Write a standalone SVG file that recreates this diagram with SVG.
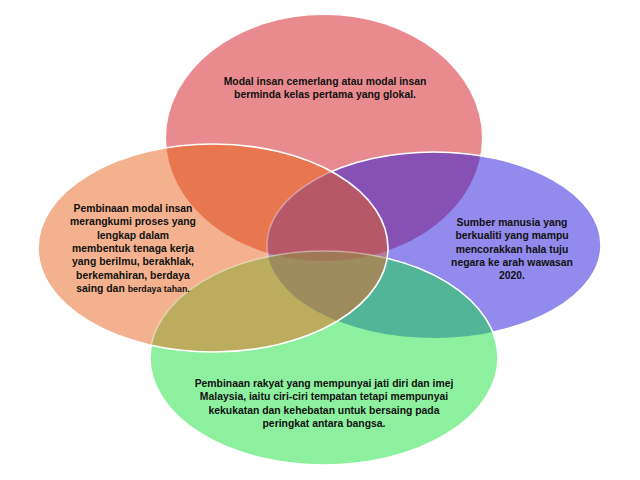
<svg xmlns="http://www.w3.org/2000/svg" width="640" height="480" viewBox="0 0 640 480">
<style>
.t{font-family:"Liberation Sans",Arial,sans-serif;font-size:10.4px;font-weight:bold;fill:#111;text-anchor:middle}
.s{font-size:8.8px}
.st{fill:none;stroke:#fff;stroke-width:1.6}
</style>
<defs>
<clipPath id="cT"><ellipse cx="324" cy="138" rx="158" ry="123"/></clipPath>
<clipPath id="cL"><ellipse cx="213" cy="248" rx="175" ry="104"/></clipPath>
<clipPath id="cR"><ellipse cx="434" cy="245" rx="167" ry="93"/></clipPath>
<clipPath id="cB"><ellipse cx="324" cy="358" rx="174" ry="107"/></clipPath>
<mask id="mNotB"><rect width="640" height="480" fill="#fff"/><ellipse cx="324" cy="358" rx="174" ry="107" fill="#000"/></mask>
<mask id="mNotL"><rect width="640" height="480" fill="#fff"/><ellipse cx="213" cy="248" rx="175" ry="104" fill="#000"/></mask>
</defs>
<rect width="640" height="480" fill="#fff"/>

<g id="node-top">
<ellipse cx="324" cy="138" rx="158" ry="123" fill="#E98B8E"/>
</g>
<g id="node-left">
<ellipse cx="213" cy="248" rx="175" ry="104" fill="#F4B18F"/>
</g>
<g id="node-right">
<ellipse cx="434" cy="245" rx="167" ry="93" fill="#928AEC"/>
</g>
<g id="node-bottom">
<ellipse cx="324" cy="358" rx="174" ry="107" fill="#8DF09F"/>
</g>

<g id="overlaps">
<g clip-path="url(#cT)"><ellipse cx="213" cy="248" rx="175" ry="104" fill="#E8774F"/></g>
<g clip-path="url(#cT)"><ellipse cx="434" cy="245" rx="167" ry="93" fill="#8650B5"/></g>
<g clip-path="url(#cT)"><ellipse cx="324" cy="358" rx="174" ry="107" fill="#C08A70"/></g>
<g clip-path="url(#cL)"><ellipse cx="434" cy="245" rx="167" ry="93" fill="#B07A9A"/></g>
<g clip-path="url(#cL)"><ellipse cx="324" cy="358" rx="174" ry="107" fill="#BBAC5E"/></g>
<g clip-path="url(#cR)"><ellipse cx="324" cy="358" rx="174" ry="107" fill="#52B597"/></g>
<g clip-path="url(#cT)"><g clip-path="url(#cL)"><ellipse cx="434" cy="245" rx="167" ry="93" fill="#B75868"/></g></g>
<g clip-path="url(#cT)"><g clip-path="url(#cL)"><ellipse cx="324" cy="358" rx="174" ry="107" fill="#C4925A"/></g></g>
<g clip-path="url(#cT)"><g clip-path="url(#cR)"><ellipse cx="324" cy="358" rx="174" ry="107" fill="#7E7A8E"/></g></g>
<g clip-path="url(#cL)"><g clip-path="url(#cR)"><ellipse cx="324" cy="358" rx="174" ry="107" fill="#9F8C5E"/></g></g>
<g clip-path="url(#cT)"><g clip-path="url(#cL)"><g clip-path="url(#cR)"><ellipse cx="324" cy="358" rx="174" ry="107" fill="#A07856"/></g></g></g>
</g>

<g id="outlines">
<g mask="url(#mNotB)"><g mask="url(#mNotL)"><ellipse class="st" cx="434" cy="245" rx="167" ry="93"/></g></g>
<g mask="url(#mNotB)"><g clip-path="url(#cL)"><ellipse class="st" cx="434" cy="245" rx="167" ry="93" stroke-opacity="0.35"/></g></g>
<g mask="url(#mNotL)"><ellipse class="st" cx="324" cy="358" rx="174" ry="107"/></g>
<g clip-path="url(#cL)"><ellipse class="st" cx="324" cy="358" rx="174" ry="107" stroke-opacity="0.4"/></g>
<ellipse class="st" cx="213" cy="248" rx="175" ry="104"/>
</g>

<g id="labels">
<text class="t" x="325" y="85">Modal insan cemerlang atau modal insan</text>
<text class="t" x="325" y="98">berminda kelas pertama yang glokal.</text>

<text class="t" x="133" y="212">Pembinaan modal insan</text>
<text class="t" x="133" y="225">merangkumi proses yang</text>
<text class="t" x="133" y="239">lengkap dalam</text>
<text class="t" x="133" y="252">membentuk tenaga kerja</text>
<text class="t" x="133" y="265">yang berilmu, berakhlak,</text>
<text class="t" x="133" y="279">berkemahiran, berdaya</text>
<text class="t" x="133" y="292">saing dan <tspan class="s">berdaya tahan.</tspan></text>

<text class="t" x="512" y="226">Sumber manusia yang</text>
<text class="t" x="512" y="239">berkualiti yang mampu</text>
<text class="t" x="512" y="253">mencorakkan hala tuju</text>
<text class="t" x="512" y="266">negara ke arah wawasan</text>
<text class="t" x="512" y="279">2020.</text>

<text class="t" x="324" y="387">Pembinaan rakyat yang mempunyai  jati diri dan imej</text>
<text class="t" x="324" y="400">Malaysia, iaitu ciri-ciri tempatan tetapi mempunyai</text>
<text class="t" x="324" y="414">kekukatan dan kehebatan untuk bersaing pada</text>
<text class="t" x="324" y="427">peringkat antara bangsa.</text>
</g>
</svg>
